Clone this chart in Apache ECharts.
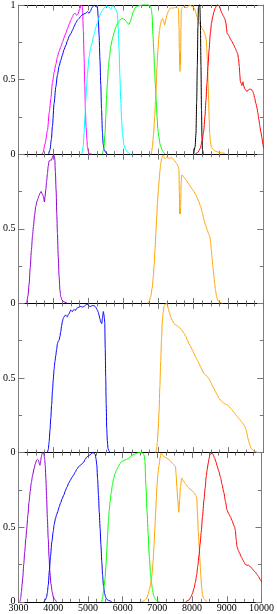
<!DOCTYPE html>
<html><head><meta charset="utf-8">
<script src="https://cdn.jsdelivr.net/npm/echarts@6/dist/echarts.min.js"></script>
<style>html,body{margin:0;padding:0;background:#fff}#c{width:277px;height:614px}</style>
</head><body><div id="c"></div>
<script>
const xTicks = [3000,4000,5000,6000,7000,8000,9000,10000];
const yTicks = [0,0.5,1];

// Panel 1
const p1Magenta = [[3660,0],[3700,0.01],[3760,0.07],[3828,0.16],[3880,0.28],[3923,0.37],[3971,0.48],[4020,0.55],[4066,0.6],[4110,0.65],[4161,0.69],[4210,0.72],[4256,0.75],[4300,0.78],[4352,0.81],[4400,0.84],[4447,0.87],[4500,0.9],[4542,0.92],[4580,0.94],[4618,0.945],[4660,0.93],[4700,0.94],[4752,0.975],[4799,1.0],[4828,0.99],[4856,0.82],[4875,0.65],[4894,0.47],[4913,0.3],[4933,0.18],[4955,0.1],[4971,0.05],[5000,0.015],[5037,0.003],[5100,0]];
const p1Blue = [[3860,0],[3900,0.03],[3940,0.1],[3971,0.19],[4018,0.34],[4066,0.45],[4113,0.53],[4161,0.59],[4210,0.63],[4256,0.665],[4300,0.7],[4352,0.73],[4400,0.76],[4447,0.79],[4500,0.81],[4542,0.83],[4590,0.855],[4637,0.88],[4690,0.9],[4733,0.91],[4780,0.925],[4828,0.935],[4875,0.94],[4923,0.945],[4971,0.955],[5018,0.945],[5060,0.96],[5094,0.98],[5130,0.99],[5161,1.0],[5209,0.99],[5256,0.985],[5280,0.92],[5304,0.8],[5330,0.63],[5352,0.47],[5375,0.3],[5399,0.15],[5420,0.07],[5447,0.03],[5500,0.01],[5550,0]];
const p1Cyan = [[4810,0],[4850,0.05],[4875,0.14],[4900,0.25],[4923,0.36],[4950,0.46],[4971,0.54],[5018,0.65],[5060,0.71],[5094,0.74],[5161,0.8],[5210,0.85],[5256,0.88],[5300,0.915],[5352,0.945],[5400,0.965],[5447,0.98],[5500,0.99],[5542,0.99],[5590,0.985],[5637,0.975],[5680,0.99],[5704,0.995],[5740,0.985],[5770,0.975],[5828,0.945],[5850,0.85],[5876,0.7],[5900,0.52],[5923,0.36],[5950,0.23],[5971,0.14],[6020,0.06],[6066,0.03],[6130,0.01],[6210,0]];
const p1Green = [[5400,0],[5440,0.04],[5475,0.14],[5495,0.25],[5514,0.36],[5540,0.47],[5571,0.58],[5600,0.65],[5637,0.72],[5670,0.76],[5704,0.79],[5740,0.82],[5780,0.85],[5830,0.875],[5876,0.89],[5920,0.905],[5971,0.91],[6020,0.905],[6066,0.895],[6110,0.88],[6161,0.87],[6200,0.89],[6237,0.92],[6285,0.955],[6332,0.98],[6390,0.99],[6447,0.995],[6550,1.0],[6700,1.0],[6770,0.995],[6800,0.97],[6820,0.93],[6845,0.8],[6866,0.7],[6890,0.58],[6913,0.47],[6940,0.35],[6961,0.25],[6985,0.17],[7008,0.12],[7056,0.06],[7104,0.03],[7150,0.01],[7200,0]];
const p1Orange = [[6800,0],[6830,0.05],[6860,0.13],[6894,0.25],[6930,0.42],[6961,0.59],[6985,0.69],[7008,0.77],[7030,0.83],[7056,0.865],[7090,0.9],[7123,0.91],[7150,0.89],[7180,0.865],[7210,0.9],[7247,0.935],[7290,0.96],[7342,0.98],[7400,0.98],[7437,0.98],[7490,0.985],[7532,0.985],[7575,0.975],[7590,0.85],[7600,0.7],[7610,0.6],[7618,0.555],[7625,0.68],[7635,0.6],[7645,0.85],[7656,0.97],[7690,0.985],[7723,0.99],[7770,0.985],[7818,0.98],[7850,0.99],[7885,1.0],[7930,0.995],[7961,0.99],[8000,0.985],[8037,0.975],[8070,0.95],[8104,0.92],[8140,0.9],[8170,0.88],[8210,0.86],[8246,0.845],[8290,0.83],[8323,0.81],[8350,0.79],[8370,0.765],[8390,0.68],[8408,0.59],[8422,0.47],[8437,0.36],[8452,0.24],[8466,0.14],[8490,0.08],[8513,0.05],[8570,0.03],[8627,0.02],[8760,0.01],[8913,0.005]];
const p1Black = [[8008,0],[8050,0.05],[8075,0.14],[8095,0.35],[8113,0.59],[8130,0.85],[8145,0.98],[8160,1.0],[8185,1.0],[8200,0.9],[8218,0.59],[8232,0.3],[8246,0.12],[8262,0.03],[8280,0]];
const p1Red = [[8050,0],[8120,0.01],[8199,0.04],[8250,0.09],[8294,0.15],[8330,0.25],[8360,0.36],[8390,0.48],[8418,0.59],[8450,0.7],[8485,0.81],[8520,0.88],[8551,0.92],[8590,0.955],[8627,0.98],[8660,0.995],[8694,1.0],[8751,0.99],[8790,0.96],[8818,0.945],[8860,0.925],[8894,0.91],[8932,0.88],[8950,0.84],[8965,0.81],[9000,0.8],[9027,0.79],[9065,0.77],[9104,0.755],[9150,0.735],[9199,0.71],[9235,0.69],[9265,0.675],[9290,0.64],[9313,0.59],[9330,0.53],[9342,0.49],[9365,0.475],[9389,0.46],[9400,0.47],[9418,0.485],[9440,0.46],[9466,0.44],[9500,0.43],[9532,0.42],[9565,0.43],[9599,0.435],[9640,0.435],[9675,0.43],[9700,0.42],[9723,0.405],[9750,0.38],[9789,0.34],[9820,0.31],[9846,0.275],[9875,0.23],[9904,0.185],[9930,0.15],[9961,0.11],[9985,0.07],[10008,0.04]];

// Panel 2
const p2Purple = [[3237,0],[3270,0.05],[3304,0.13],[3335,0.24],[3370,0.36],[3400,0.45],[3427,0.515],[3460,0.59],[3494,0.65],[3530,0.685],[3561,0.705],[3590,0.725],[3618,0.74],[3645,0.75],[3665,0.75],[3690,0.73],[3713,0.715],[3742,0.68],[3760,0.72],[3780,0.76],[3805,0.82],[3827,0.87],[3850,0.92],[3875,0.955],[3910,0.96],[3942,0.96],[3970,0.98],[3999,0.995],[4020,0.99],[4037,0.97],[4055,0.88],[4075,0.76],[4095,0.6],[4113,0.47],[4137,0.31],[4161,0.18],[4185,0.09],[4208,0.045],[4250,0.02],[4304,0.01],[4400,0]];
const p2Orange = [[6685,0],[6740,0.015],[6780,0.045],[6820,0.1],[6856,0.18],[6880,0.26],[6904,0.36],[6928,0.47],[6951,0.58],[6975,0.68],[6999,0.76],[7023,0.83],[7047,0.895],[7070,0.94],[7094,0.97],[7115,0.99],[7142,0.995],[7165,0.98],[7190,0.97],[7210,0.975],[7237,0.98],[7270,0.975],[7304,0.97],[7340,0.975],[7370,0.98],[7410,0.97],[7446,0.96],[7495,0.945],[7542,0.93],[7570,0.915],[7589,0.895],[7598,0.75],[7608,0.6],[7618,0.63],[7628,0.6],[7637,0.65],[7650,0.8],[7666,0.86],[7700,0.855],[7732,0.845],[7780,0.83],[7827,0.815],[7875,0.8],[7923,0.78],[7970,0.765],[8018,0.75],[8065,0.73],[8113,0.705],[8160,0.68],[8208,0.65],[8255,0.61],[8304,0.56],[8350,0.525],[8399,0.49],[8440,0.465],[8475,0.445],[8495,0.41],[8513,0.36],[8537,0.3],[8561,0.245],[8585,0.185],[8608,0.135],[8635,0.085],[8665,0.045],[8700,0.02],[8732,0.01],[8827,0]];

// Panel 3
const p3Blue = [[3827,0],[3850,0.02],[3875,0.07],[3900,0.15],[3923,0.23],[3947,0.32],[3970,0.41],[3995,0.49],[4018,0.56],[4042,0.61],[4066,0.65],[4090,0.69],[4113,0.73],[4137,0.745],[4161,0.755],[4185,0.78],[4208,0.81],[4232,0.85],[4256,0.88],[4280,0.9],[4304,0.91],[4330,0.92],[4351,0.92],[4375,0.915],[4399,0.91],[4420,0.925],[4446,0.93],[4470,0.945],[4494,0.955],[4518,0.95],[4542,0.945],[4565,0.955],[4589,0.96],[4612,0.955],[4637,0.955],[4660,0.965],[4684,0.97],[4730,0.975],[4780,0.98],[4830,0.975],[4875,0.98],[4900,0.985],[4923,0.99],[4960,0.995],[4989,0.99],[5030,0.98],[5065,0.98],[5110,0.985],[5161,0.985],[5210,0.975],[5256,0.955],[5280,0.94],[5304,0.92],[5330,0.895],[5351,0.875],[5380,0.865],[5400,0.9],[5427,0.945],[5447,0.92],[5466,0.875],[5480,0.7],[5494,0.5],[5508,0.32],[5523,0.16],[5540,0.08],[5561,0.027],[5590,0.01],[5618,0]];
const p3Orange = [[6923,0],[6950,0.025],[6970,0.07],[6995,0.16],[7018,0.27],[7042,0.44],[7066,0.61],[7090,0.76],[7113,0.88],[7137,0.94],[7161,0.98],[7195,0.995],[7227,1.0],[7255,0.99],[7285,0.965],[7318,0.935],[7351,0.91],[7400,0.885],[7446,0.865],[7495,0.855],[7542,0.85],[7590,0.84],[7637,0.83],[7685,0.815],[7732,0.8],[7780,0.78],[7827,0.755],[7875,0.73],[7923,0.71],[7970,0.69],[8018,0.665],[8065,0.64],[8113,0.62],[8160,0.6],[8208,0.575],[8255,0.55],[8304,0.53],[8350,0.52],[8399,0.51],[8446,0.495],[8494,0.475],[8540,0.45],[8589,0.43],[8637,0.405],[8685,0.385],[8732,0.365],[8780,0.35],[8830,0.34],[8875,0.33],[8920,0.325],[8970,0.32],[9018,0.31],[9066,0.295],[9113,0.285],[9161,0.27],[9210,0.255],[9256,0.24],[9300,0.23],[9351,0.215],[9400,0.2],[9447,0.185],[9480,0.17],[9513,0.15],[9537,0.125],[9561,0.095],[9590,0.07],[9618,0.05],[9650,0.03],[9685,0.02],[9730,0.012],[9780,0.008],[9846,0]];

// Panel 4
const p4Purple = [[3040,0],[3060,0.02],[3085,0.07],[3105,0.12],[3123,0.16],[3150,0.25],[3180,0.335],[3210,0.42],[3237,0.49],[3270,0.58],[3304,0.67],[3337,0.74],[3370,0.8],[3408,0.85],[3446,0.89],[3485,0.925],[3522,0.95],[3545,0.955],[3570,0.95],[3595,0.93],[3618,0.915],[3637,0.94],[3656,0.97],[3675,0.99],[3694,1.0],[3715,0.995],[3732,0.99],[3752,0.96],[3770,0.915],[3790,0.82],[3808,0.71],[3832,0.56],[3856,0.425],[3880,0.3],[3903,0.2],[3935,0.12],[3970,0.067],[4000,0.035],[4037,0.018],[4094,0]];
const p4Blue = [[3732,0],[3770,0.01],[3808,0.03],[3830,0.06],[3856,0.11],[3890,0.21],[3923,0.31],[3960,0.4],[3999,0.47],[4030,0.52],[4066,0.56],[4100,0.585],[4132,0.605],[4170,0.635],[4208,0.66],[4256,0.69],[4304,0.715],[4350,0.745],[4399,0.77],[4446,0.795],[4494,0.815],[4540,0.835],[4589,0.85],[4637,0.87],[4684,0.89],[4730,0.905],[4780,0.915],[4830,0.925],[4875,0.935],[4920,0.955],[4970,0.97],[5020,0.98],[5065,0.985],[5105,0.995],[5142,1.0],[5180,0.995],[5208,0.99],[5232,0.96],[5256,0.915],[5280,0.82],[5304,0.715],[5327,0.6],[5351,0.49],[5375,0.38],[5399,0.27],[5422,0.18],[5446,0.11],[5480,0.055],[5513,0.03],[5550,0.015],[5589,0.01],[5684,0]];
const p4Green = [[5399,0],[5425,0.03],[5446,0.07],[5470,0.11],[5494,0.16],[5518,0.24],[5541,0.335],[5565,0.44],[5589,0.535],[5613,0.61],[5637,0.67],[5670,0.73],[5703,0.78],[5740,0.825],[5780,0.86],[5827,0.885],[5875,0.905],[5920,0.925],[5970,0.94],[6018,0.945],[6066,0.95],[6113,0.955],[6161,0.96],[6210,0.97],[6256,0.98],[6300,0.985],[6351,0.99],[6400,0.995],[6446,1.0],[6541,1.0],[6590,0.995],[6620,0.98],[6640,0.95],[6670,0.78],[6705,0.6],[6735,0.45],[6770,0.3],[6800,0.2],[6830,0.13],[6860,0.08],[6890,0.045],[6923,0.025],[6990,0.008],[7066,0]];
const p4Orange = [[6541,0],[6620,0.008],[6684,0.02],[6735,0.05],[6780,0.09],[6820,0.14],[6856,0.2],[6880,0.28],[6904,0.38],[6928,0.49],[6951,0.6],[6970,0.69],[6989,0.78],[7018,0.86],[7047,0.915],[7080,0.965],[7108,0.995],[7135,0.99],[7161,0.98],[7210,0.97],[7256,0.965],[7300,0.958],[7351,0.95],[7400,0.938],[7446,0.925],[7490,0.915],[7522,0.905],[7542,0.85],[7561,0.77],[7590,0.68],[7618,0.6],[7640,0.68],[7666,0.77],[7700,0.83],[7713,0.825],[7750,0.81],[7780,0.8],[7830,0.785],[7875,0.77],[7920,0.76],[7970,0.75],[8020,0.74],[8065,0.73],[8100,0.715],[8132,0.7],[8155,0.6],[8180,0.47],[8205,0.37],[8227,0.275],[8250,0.18],[8275,0.1],[8300,0.05],[8330,0.025],[8399,0.005],[8440,0]];
const p4Red = [[7818,0],[7900,0.01],[7961,0.03],[8010,0.055],[8056,0.09],[8095,0.13],[8132,0.18],[8165,0.24],[8199,0.31],[8232,0.39],[8265,0.47],[8300,0.57],[8342,0.68],[8375,0.76],[8408,0.84],[8437,0.89],[8466,0.93],[8490,0.96],[8513,0.985],[8545,0.995],[8580,0.995],[8610,0.985],[8647,0.965],[8685,0.94],[8723,0.91],[8770,0.875],[8818,0.835],[8865,0.785],[8913,0.735],[8960,0.675],[9008,0.615],[9055,0.59],[9104,0.57],[9150,0.545],[9199,0.515],[9225,0.5],[9246,0.48],[9270,0.42],[9294,0.37],[9330,0.345],[9370,0.325],[9420,0.3],[9466,0.28],[9500,0.265],[9532,0.25],[9580,0.245],[9627,0.245],[9675,0.235],[9723,0.225],[9770,0.21],[9818,0.2],[9865,0.185],[9913,0.17],[9960,0.15],[10010,0.13]];

const C = {magenta:'#ff00ff', blue:'#0000ff', cyan:'#00ffff', green:'#00ff00', orange:'#ffa500', black:'#000000', red:'#ff0000', purple:'#9400d3'};
const panels = [
  [[p1Magenta,C.magenta],[p1Blue,C.blue],[p1Cyan,C.cyan],[p1Green,C.green],[p1Orange,C.orange],[p1Black,C.black],[p1Red,C.red]],
  [[p2Purple,C.purple],[p2Orange,C.orange]],
  [[p3Blue,C.blue],[p3Orange,C.orange]],
  [[p4Purple,C.purple],[p4Blue,C.blue],[p4Green,C.green],[p4Orange,C.orange],[p4Red,C.red]]
];

const FONT = 'Liberation Serif';
const L = 17.7, W = 245.6, T0 = 5, H = 149.2;
const grids = [], xAxes = [], yAxes = [], series = [];
const xInt = xTicks[1]-xTicks[0], yInt = yTicks[1]-yTicks[0];
panels.forEach((curves, i) => {
  grids.push({left:L, width:W, top:T0 + i*H, height:H});
  ['bottom','top'].forEach((pos) => {
    xAxes.push({type:'value', gridIndex:i, position:pos, min:xTicks[0], max:xTicks[xTicks.length-1], interval:xInt,
      axisLine:{show:true, onZero:false, lineStyle:{color:'#000', width:1}},
      axisTick:{show:true, inside:true, length:5.5, lineStyle:{color:'#777', width:1}},
      minorTick:{show:true, splitNumber:4, length:3, lineStyle:{color:'#777', width:1}},
      splitLine:{show:false}, minorSplitLine:{show:false},
      axisLabel:{show: pos==='bottom' && i===panels.length-1, fontFamily:FONT, fontSize:10, color:'#000', margin:2,
        formatter: (v) => String(v)}
    });
  });
  ['left','right'].forEach((pos) => {
    yAxes.push({type:'value', gridIndex:i, position:pos, min:yTicks[0], max:yTicks[yTicks.length-1], interval:yInt,
      axisLine:{show:true, onZero:false, lineStyle:{color:'#808080', width:1}},
      axisTick:{show:true, inside:true, length:6, lineStyle:{color:'#777', width:1}},
      minorTick:{show:true, splitNumber:2, length:3.5, lineStyle:{color:'#777', width:1}},
      splitLine:{show:false}, minorSplitLine:{show:false},
      axisLabel:{show: pos==='left', showMaxLabel: i===0, fontFamily:FONT, fontSize:10, color:'#000', margin:3,
        formatter: (v) => String(v)}
    });
  });
  curves.forEach(([d, col]) => {
    series.push({type:'line', xAxisIndex:2*i, yAxisIndex:2*i, data:d, showSymbol:false, symbol:'none',
      smooth:0.25, smoothMonotone:'x', clip:false, animation:false, silent:true,
      lineStyle:{color:col, width:1}, itemStyle:{color:col}});
  });
});

const chart = echarts.init(document.getElementById('c'), null, {renderer:'canvas'});
chart.setOption({animation:false, backgroundColor:'#fff', grid:grids, xAxis:xAxes, yAxis:yAxes, series:series});
</script></body></html>
